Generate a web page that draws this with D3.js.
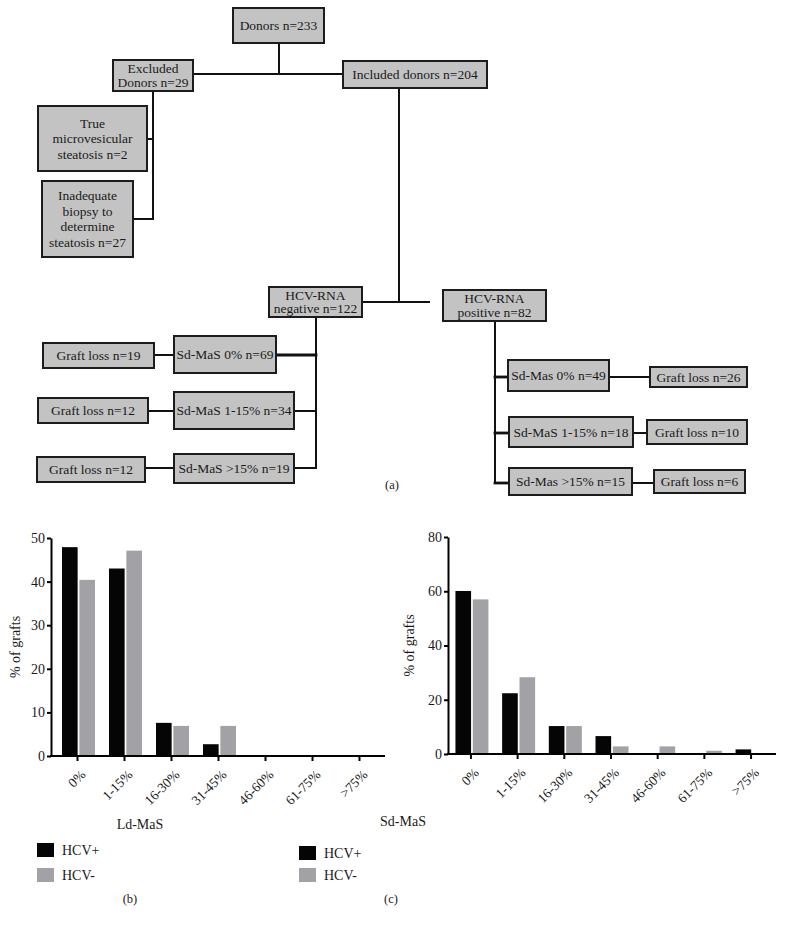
<!DOCTYPE html>
<html><head><meta charset="utf-8">
<script src="https://cdn.jsdelivr.net/npm/d3@7"></script>
<style>body{margin:0;background:#fff}svg{display:block}text{font-family:"Liberation Serif","Times New Roman",serif;fill:#1a1a1a}</style>
</head><body>
<script>
// ---- Data ----
const categories = ["0%","1-15%","16-30%","31-45%","46-60%","61-75%",">75%"];
const seriesNames = ["HCV+","HCV-"];
const ldHCVpos = [47.9, 43.0, 7.6, 2.7, 0, 0, 0];
const ldHCVneg = [40.4, 47.1, 6.9, 6.9, 0, 0, 0];
const sdHCVpos = [60.1, 22.4, 10.3, 6.6, 0, 0, 1.7];
const sdHCVneg = [57.0, 28.3, 10.3, 2.8, 2.8, 1.2, 0];
const ldTicks = [0,10,20,30,40,50];
const sdTicks = [0,20,40,60,80];
const flowLabels = {
  donors:["Donors n=233"], excluded:["Excluded","Donors n=29"], included:["Included donors n=204"],
  trueMv:["True","microvesicular","steatosis n=2"], inadequate:["Inadequate","biopsy to","determine","steatosis n=27"],
  neg:["HCV-RNA","negative n=122"], pos:["HCV-RNA","positive n=82"],
  n0:["Sd-MaS 0% n=69"], n1:["Sd-MaS 1-15% n=34"], n2:["Sd-MaS >15% n=19"],
  gn0:["Graft loss n=19"], gn1:["Graft loss n=12"], gn2:["Graft loss n=12"],
  p0:["Sd-Mas 0% n=49"], p1:["Sd-MaS 1-15% n=18"], p2:["Sd-Mas >15% n=15"],
  gp0:["Graft loss n=26"], gp1:["Graft loss n=10"], gp2:["Graft loss n=6"]
};
const colors = {"HCV+":"#050505","HCV-":"#a2a2a6"};

const W=785,H=926;
const svg=d3.select("body").append("svg").attr("width",W).attr("height",H);

// ---- Flowchart (a) ----
const boxes = {
  donors:[233,8,324,43], excluded:[113,60,193,91], included:[343,61,487,88],
  trueMv:[38,106,147,171], inadequate:[42,181,133,257],
  neg:[269,287,362,317], pos:[443,290,546,321],
  n0:[174,336,276,373], n1:[174,392,294,429], n2:[174,454,294,483],
  gn0:[43,343,154,368], gn1:[38,398,148,423], gn2:[37,457,145,482],
  p0:[508,360,609,391], p1:[509,417,633,447], p2:[509,468,632,495],
  gp0:[650,367,747,387], gp1:[647,420,747,444], gp2:[654,470,745,493]
};
const lines = [
  [[279,43],[279,74]], [[193,74],[343,74]],
  [[153,91],[153,219]], [[147,139],[153,139]], [[133,219],[153,219]],
  [[399,88],[399,302]], [[363,302],[429,302]],
  [[316,317],[316,468]], [[276,355],[316,355],[2.8]], [[294,411],[316,411]], [[294,468],[316,468]],
  [[154,355],[174,355]], [[148,411],[174,411]], [[145,468],[174,468]],
  [[495,321],[495,483]], [[495,377],[508,377],[2.8]], [[495,433],[509,433],[2.8]], [[495,483],[509,483],[2.8]],
  [[609,377],[650,377]], [[633,433],[647,433]], [[632,483],[654,483]]
];
const fc=svg.append("g");
fc.selectAll("line").data(lines).join("line")
  .attr("x1",d=>d[0][0]).attr("y1",d=>d[0][1]).attr("x2",d=>d[1][0]).attr("y2",d=>d[1][1])
  .attr("stroke","#111").attr("stroke-width",d=>d[2]?d[2][0]:2).attr("stroke-linecap","square");
Object.entries(boxes).forEach(([k,b])=>{
  const g=fc.append("g");
  g.append("rect").attr("x",b[0]).attr("y",b[1]).attr("width",b[2]-b[0]).attr("height",b[3]-b[1])
    .attr("fill","#c3c3c3").attr("stroke","#1c1c1c").attr("stroke-width",2);
  const lab=flowLabels[k], lh=lab.length===2?13.5:15.5, cx=(b[0]+b[2])/2, cy=(b[1]+b[3])/2;
  lab.forEach((t,i)=>{
    g.append("text").attr("x",cx).attr("y",cy+(i-(lab.length-1)/2)*lh).attr("dy","0.35em")
      .attr("text-anchor","middle").attr("font-size",13.5).text(t);
  });
});
svg.append("text").attr("x",392).attr("y",489).attr("text-anchor","middle").attr("font-size",12.5).text("(a)");

// ---- Bar charts ----
function barChart(cfg){
  const g=svg.append("g");
  const x0=d3.scaleBand().domain(categories).range(cfg.xr).padding(0);
  const x1=d3.scaleBand().domain(seriesNames).range([-15.5,17.5]).paddingInner(0.1);
  const y=d3.scaleLinear().domain([0,cfg.max]).range(cfg.yr);
  const rows=categories.map((c,i)=>({c,vals:[{s:"HCV+",v:cfg.pos[i]},{s:"HCV-",v:cfg.neg[i]}]}));
  g.selectAll("g.grp").data(rows).join("g").attr("class","grp")
    .attr("transform",d=>`translate(${x0(d.c)+x0.bandwidth()/2},0)`)
    .selectAll("rect").data(d=>d.vals.filter(v=>v.v>0)).join("rect")
    .attr("x",d=>x1(d.s)).attr("width",x1.bandwidth())
    .attr("y",d=>y(d.v)).attr("height",d=>y(0)-y(d.v)).attr("fill",d=>colors[d.s]);
  // y axis
  const ya=g.append("g").attr("transform",`translate(${cfg.axX},0)`)
    .call(d3.axisLeft(y).tickValues(cfg.ticks).tickSize(4).tickSizeOuter(0).tickPadding(2));
  ya.select(".domain").attr("stroke","#000").attr("stroke-width",2);
  ya.selectAll(".tick line").attr("stroke","#000").attr("stroke-width",2);
  ya.selectAll(".tick text").attr("font-size",14).attr("font-family","Liberation Serif");
  // x axis
  const xa=g.append("g").attr("transform",`translate(0,${cfg.yr[0]})`)
    .call(d3.axisBottom(x0).tickSize(5).tickSizeOuter(0));
  xa.select(".domain").attr("d",`M${cfg.axX-1},0H${cfg.axEnd}`).attr("stroke","#000").attr("stroke-width",2);
  xa.selectAll(".tick line").attr("stroke","#000").attr("stroke-width",2);
  xa.selectAll(".tick text").attr("font-size",13.5).attr("font-family","Liberation Serif")
    .attr("text-anchor","end").attr("x",-7.5).attr("y",20).attr("dy",0).attr("dx",0).attr("transform","rotate(-45)");
  // titles
  g.append("text").attr("transform",`translate(${cfg.ylabX},${(cfg.yr[0]+cfg.yr[1])/2}) rotate(-90)`)
    .attr("text-anchor","middle").attr("font-size",14).text("% of grafts");
  g.append("text").attr("x",cfg.xtX).attr("y",cfg.xtY).attr("text-anchor","middle").attr("font-size",14).text(cfg.xTitle);
  // legend
  const lg=g.append("g");
  seriesNames.forEach((s,i)=>{
    lg.append("rect").attr("x",cfg.legX).attr("y",cfg.legY[i]).attr("width",17).attr("height",14).attr("fill",colors[s]);
    lg.append("text").attr("x",cfg.legX+25).attr("y",cfg.legY[i]+7).attr("dy","0.35em").attr("font-size",14).text(s);
  });
  g.append("text").attr("x",cfg.capX).attr("y",903).attr("text-anchor","middle").attr("font-size",12.5).text(cfg.cap);
}
barChart({xr:[54,383],yr:[756,538],max:50,ticks:ldTicks,pos:ldHCVpos,neg:ldHCVneg,axX:51,axEnd:385,
  ylabX:20,xtX:140,xtY:829,xTitle:"Ld-MaS",legX:37,legY:[843,868],capX:130,cap:"(b)"});
barChart({xr:[447.6,774.4],yr:[754,537],max:80,ticks:sdTicks,pos:sdHCVpos,neg:sdHCVneg,axX:448,axEnd:776,
  ylabX:414,xtX:403,xtY:826,xTitle:"Sd-MaS",legX:299,legY:[846,868],capX:391,cap:"(c)"});
</script>
</body></html>
